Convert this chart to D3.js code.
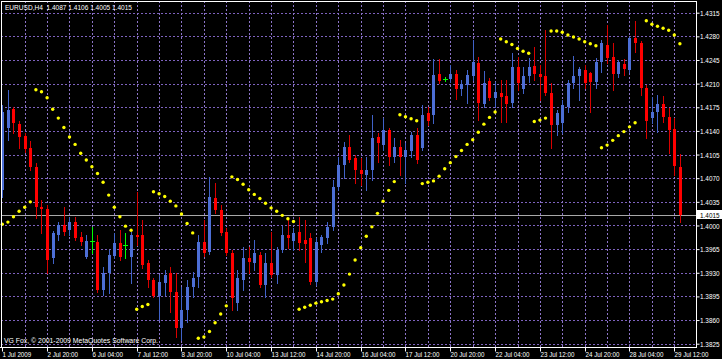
<!DOCTYPE html>
<html>
<head>
<meta charset="utf-8">
<script src="https://cdn.jsdelivr.net/npm/d3@7"></script>
<style>
  body { margin: 0; background: #000; }
  svg { display: block; }
  text { font-family: "Liberation Sans", Arial, sans-serif; }
</style>
</head>
<body>
<div id="vis"></div>
<script>
const WIDTH = 722;
const HEIGHT = 359;

const title = "EURUSD,H4  1.4087 1.4106 1.4005 1.4015";
const copyright = "VG Fox, \u00a9 2001-2009 MetaQuotes Software Corp.";

// H4 bars, from 1 Jul 2009 12:00 to 29 Jul 2009 16:00
const openP = [1.4053,1.4144,1.4172,1.4150,1.4133,1.4115,1.4087,1.4027,1.4025,1.3952,
  1.3986,1.4001,1.3993,1.4005,1.3983,1.3953,1.3977,1.3976,1.3905,1.3930,
  1.3955,1.3974,1.3971,1.3953,1.3986,1.3986,1.3945,1.3919,1.3896,1.3915,
  1.3930,1.3902,1.3848,1.3875,1.3909,1.3924,1.3976,1.3961,1.4041,1.4023,
  1.3990,1.3959,1.3885,1.3919,1.3952,1.3945,1.3956,1.3912,1.3945,1.3927,
  1.3964,1.3986,1.3977,1.3990,1.3979,1.3982,1.3916,1.3971,1.3982,1.3998,
  1.4057,1.4090,1.4116,1.4100,1.4082,1.4075,1.4082,1.4131,1.4119,1.4141,
  1.4101,1.4116,1.4101,1.4110,1.4134,1.4115,1.4167,1.4164,1.4224,1.4217,
  1.4217,1.4224,1.4202,1.4208,1.4221,1.4241,1.4180,1.4214,1.4189,1.4196,
  1.4192,1.4181,1.4235,1.4202,1.4221,1.4236,1.4224,1.4221,1.4196,1.4149,
  1.4152,1.4175,1.4211,1.4221,1.4230,1.4226,1.4212,1.4242,1.4267,1.4249,
  1.4224,1.4239,1.4230,1.4278,1.4270,1.4204,1.4159,1.4168,1.4180,1.4161,
  1.4143,1.4087];
const highP = [1.4178,1.4201,1.4175,1.4155,1.4137,1.4125,1.4093,1.4038,1.4030,1.3992,
  1.4005,1.4027,1.4013,1.4013,1.3990,1.3986,1.3998,1.3986,1.3939,1.3964,
  1.3989,1.3993,1.3989,1.3990,1.4050,1.4008,1.3949,1.3922,1.3927,1.3934,
  1.3939,1.3930,1.3909,1.3919,1.3931,1.3986,1.4008,1.4072,1.4063,1.4030,
  1.3996,1.3964,1.3934,1.3968,1.3968,1.3979,1.3961,1.3959,1.3990,1.3968,
  1.3999,1.4008,1.3996,1.4013,1.4008,1.3989,1.3982,1.3986,1.4005,1.4067,
  1.4101,1.4124,1.4134,1.4104,1.4100,1.4101,1.4164,1.4137,1.4159,1.4144,
  1.4130,1.4127,1.4122,1.4138,1.4144,1.4178,1.4175,1.4246,1.4246,1.4220,
  1.4238,1.4230,1.4215,1.4230,1.4275,1.4249,1.4229,1.4218,1.4212,1.4215,
  1.4215,1.4255,1.4249,1.4235,1.4248,1.4264,1.4238,1.4289,1.4211,1.4171,
  1.4186,1.4215,1.4251,1.4235,1.4238,1.4227,1.4248,1.4275,1.4297,1.4270,
  1.4245,1.4246,1.4279,1.4303,1.4273,1.4208,1.4190,1.4193,1.4192,1.4174,
  1.4159,1.4106];
const lowP = [1.4042,1.4127,1.4137,1.4115,1.4109,1.4082,1.4011,1.3989,1.3930,1.3945,
  1.3979,1.3986,1.3986,1.3979,1.3971,1.3952,1.3959,1.3902,1.3897,1.3900,
  1.3952,1.3949,1.3952,1.3915,1.3971,1.3937,1.3909,1.3894,1.3860,1.3897,
  1.3872,1.3835,1.3831,1.3857,1.3894,1.3909,1.3955,1.3958,1.4019,1.3986,
  1.3956,1.3875,1.3875,1.3905,1.3930,1.3934,1.3909,1.3894,1.3924,1.3915,
  1.3961,1.3967,1.3964,1.3964,1.3946,1.3913,1.3912,1.3961,1.3974,1.3993,
  1.4053,1.4070,1.4094,1.4063,1.4060,1.4053,1.4067,1.4094,1.4112,1.4090,
  1.4094,1.4075,1.4063,1.4101,1.4093,1.4112,1.4149,1.4152,1.4211,1.4214,
  1.4212,1.4187,1.4193,1.4181,1.4215,1.4156,1.4175,1.4186,1.4175,1.4153,
  1.4153,1.4175,1.4201,1.4196,1.4212,1.4215,1.4186,1.4193,1.4115,1.4134,
  1.4137,1.4168,1.4204,1.4186,1.4204,1.4168,1.4204,1.4227,1.4241,1.4201,
  1.4220,1.4223,1.4227,1.4257,1.4193,1.4130,1.4152,1.4138,1.4153,1.4107,
  1.4075,1.4005];
const closeP = [1.4168,1.4171,1.4152,1.4131,1.4113,1.4087,1.4027,1.4025,1.3949,1.3989,
  1.4001,1.3990,1.4005,1.3982,1.3976,1.3977,1.3977,1.3905,1.3930,1.3956,
  1.3974,1.3953,1.3971,1.3986,1.3983,1.3942,1.3919,1.3896,1.3916,1.3927,
  1.3902,1.3848,1.3875,1.3909,1.3922,1.3976,1.3959,1.4042,1.4023,1.3989,
  1.3959,1.3893,1.3922,1.3952,1.3946,1.3959,1.3912,1.3945,1.3927,1.3964,
  1.3986,1.3982,1.3989,1.3974,1.3973,1.3916,1.3976,1.3983,1.3998,1.4057,
  1.4090,1.4116,1.4097,1.4082,1.4076,1.4082,1.4130,1.4122,1.4141,1.4101,
  1.4116,1.4101,1.4112,1.4134,1.4097,1.4164,1.4155,1.4223,1.4214,1.4217,
  1.4224,1.4202,1.4209,1.4223,1.4242,1.4181,1.4211,1.4189,1.4198,1.4190,
  1.4180,1.4235,1.4211,1.4221,1.4235,1.4224,1.4220,1.4196,1.4149,1.4167,
  1.4178,1.4211,1.4221,1.4232,1.4211,1.4212,1.4242,1.4270,1.4248,1.4224,
  1.4242,1.4232,1.4278,1.4270,1.4204,1.4155,1.4168,1.4180,1.4161,1.4141,
  1.4088,1.4015];

// Parabolic SAR, one value per bar
const sar = [1.4002,1.4005,1.4013,1.4021,1.4027,1.4035,1.4201,1.4198,1.4189,1.4172,
  1.4159,1.4145,1.4131,1.4120,1.4107,1.4097,1.4087,1.4077,1.4064,1.4045,
  1.4027,1.4013,1.3999,1.3993,1.3876,1.3880,1.3883,1.4050,1.4047,1.4043,
  1.4036,1.4029,1.4017,1.4003,1.3989,1.3833,1.3835,1.3843,1.3856,1.3869,
  1.3881,1.4072,1.4068,1.4061,1.4053,1.4046,1.4040,1.4033,1.4026,1.4021,
  1.4015,1.4010,1.4006,1.3876,1.3879,1.3882,1.3885,1.3887,1.3889,1.3891,
  1.3899,1.3912,1.3928,1.3949,1.3967,1.3984,1.3998,1.4018,1.4036,1.4052,
  1.4065,1.4164,1.4161,1.4158,1.4155,1.4062,1.4064,1.4066,1.4073,1.4084,
  1.4093,1.4102,1.4111,1.4120,1.4127,1.4138,1.4150,1.4160,1.4168,1.4276,
  1.4272,1.4268,1.4262,1.4258,1.4255,1.4154,1.4156,1.4159,1.4288,1.4288,
  1.4286,1.4282,1.4279,1.4276,1.4272,1.4269,1.4266,1.4115,1.4119,1.4126,
  1.4133,1.4139,1.4146,1.4152,null,1.4303,1.4298,1.4295,1.4292,1.4289,
  1.4282,1.4269];

const timeTicks = [0, 8, 16, 24, 32, 40, 48, 56, 64, 72, 80, 88, 96, 104, 112, 120];
const timeLabels = ["1 Jul 2009", "2 Jul 20:00", "6 Jul 04:00", "7 Jul 12:00", "8 Jul 20:00",
  "10 Jul 04:00", "13 Jul 12:00", "14 Jul 20:00", "16 Jul 04:00", "17 Jul 12:00",
  "20 Jul 20:00", "22 Jul 04:00", "23 Jul 12:00", "24 Jul 20:00", "28 Jul 04:00", "29 Jul 12:00"];
const priceTicks = [1.4315, 1.4280, 1.4245, 1.4210, 1.4175, 1.4140, 1.4105, 1.4070,
  1.4035, 1.4000, 1.3965, 1.3930, 1.3895, 1.3860, 1.3825];
const lastPrice = 1.4015;

const bars = openP.map((o, i) => ({ i: i, o: o, h: highP[i], l: lowP[i], c: closeP[i], s: sar[i] }));

const RIGHT = 696;   // price axis line
const BOTTOM = 347;  // time axis line
const SQUEEZE = 0.78; // the terminal font is narrow

const SVG = d3.select("#vis").append("svg")
  .attr("width", WIDTH).attr("height", HEIGHT)
  .style("background", "#000");

const x = d3.scaleLinear().domain([0, 121]).range([2.3, 2.3 + 5.6 * 121]);
const y = d3.scaleLinear().domain([1.3825, 1.4315]).range([343.7, 12.7]);
const px = v => Math.round(x(v)) + 0.5;
const py = v => Math.round(y(v)) + 0.5;

// grid
const grid = SVG.append("g").attr("shape-rendering", "crispEdges");
grid.selectAll(".hg").data(priceTicks).join("line")
  .attr("x1", 1).attr("x2", RIGHT)
  .attr("y1", d => py(d)).attr("y2", d => py(d))
  .attr("stroke", "#7d62bd").attr("stroke-dasharray", "2,2");
grid.selectAll(".vg").data(d3.range(4, 121, 4)).join("line")
  .attr("x1", d => px(d)).attr("x2", d => px(d))
  .attr("y1", 1).attr("y2", BOTTOM)
  .attr("stroke", "#8c74c8").attr("stroke-dasharray", "2,2");

// last price line
SVG.append("line")
  .attr("x1", 1).attr("x2", RIGHT)
  .attr("y1", py(lastPrice)).attr("y2", py(lastPrice))
  .attr("stroke", "#a8a8a8").attr("shape-rendering", "crispEdges");

// candles
const colorOf = d => d.c > d.o ? "#4d6fd6" : (d.c < d.o ? "#ff0000" : "#00ff00");
const wickOf = d => d.c > d.o ? "#4062c8" : (d.c < d.o ? "#d80000" : "#00ff00");
const candles = SVG.append("g").attr("shape-rendering", "crispEdges");
candles.selectAll("line").data(bars).join("line")
  .attr("x1", d => px(d.i)).attr("x2", d => px(d.i))
  .attr("y1", d => Math.round(y(d.h))).attr("y2", d => Math.round(y(d.l)) + 1)
  .attr("stroke", wickOf);
candles.selectAll("rect").data(bars).join("rect")
  .attr("x", d => Math.round(x(d.i)) - (d.c === d.o ? 2 : 1))
  .attr("width", d => d.c === d.o ? 5 : 3)
  .attr("y", d => Math.round(y(Math.max(d.o, d.c))))
  .attr("height", d => Math.max(1, Math.round(y(Math.min(d.o, d.c))) - Math.round(y(Math.max(d.o, d.c)))))
  .attr("fill", colorOf);

// parabolic SAR
SVG.append("g").selectAll("circle").data(bars.filter(d => d.s !== null)).join("circle")
  .attr("cx", d => x(d.i)).attr("cy", d => y(d.s))
  .attr("r", 1.7).attr("fill", "#ffff00");

// frame
SVG.append("path")
  .attr("d", `M1.5,${BOTTOM}V1.5H${RIGHT + 0.5}V${BOTTOM + 0.5}H0`)
  .attr("fill", "none").attr("stroke", "#fff").attr("shape-rendering", "crispEdges");

// price axis
const ejeY = d3.axisRight(y).tickValues(priceTicks).tickSize(3).tickSizeOuter(0)
  .tickFormat(d3.format(".4f"));
const gy = SVG.append("g").attr("transform", `translate(${RIGHT + 0.5},0)`).call(ejeY);
gy.select(".domain").remove();
gy.selectAll("line").attr("stroke", "#fff");
gy.selectAll("text").attr("fill", "#fff").attr("font-size", 8)
  .attr("x", 3.5 / 0.8).attr("transform", "scale(0.8,1)");

// time axis
const ejeX = d3.axisBottom(x).tickValues(timeTicks).tickSize(4).tickSizeOuter(0)
  .tickPadding(0).tickFormat((d, i) => timeLabels[i]);
const gx = SVG.append("g").attr("transform", `translate(0,${BOTTOM + 0.5})`).call(ejeX);
gx.select(".domain").remove();
gx.selectAll(".tick").attr("transform", d => `translate(${px(d)},0)`);
gx.selectAll("line").attr("stroke", "#fff");
gx.selectAll("text").attr("fill", "#fff").attr("font-size", 8)
  .attr("text-anchor", "start").attr("x", 0).attr("transform", `scale(${SQUEEZE},1)`);

// last price label
SVG.append("rect").attr("x", RIGHT + 1).attr("y", Math.round(y(lastPrice)) - 5)
  .attr("width", WIDTH - RIGHT - 1).attr("height", 9).attr("fill", "#fff");
SVG.append("text").attr("transform", `translate(700,${y(lastPrice) + 3}) scale(0.8,1)`)
  .attr("font-size", 8).attr("fill", "#000").text(d3.format(".4f")(lastPrice));

// labels
SVG.append("text").attr("x", 5).attr("y", 10).attr("font-size", 8).attr("fill", "#fff")
  .attr("textLength", 127).attr("lengthAdjust", "spacingAndGlyphs")
  .attr("xml:space", "preserve").text(title);
SVG.append("text").attr("x", 4).attr("y", 343).attr("font-size", 8).attr("fill", "#fff")
  .attr("textLength", 154).attr("lengthAdjust", "spacingAndGlyphs")
  .text(copyright);
</script>
</body>
</html>
